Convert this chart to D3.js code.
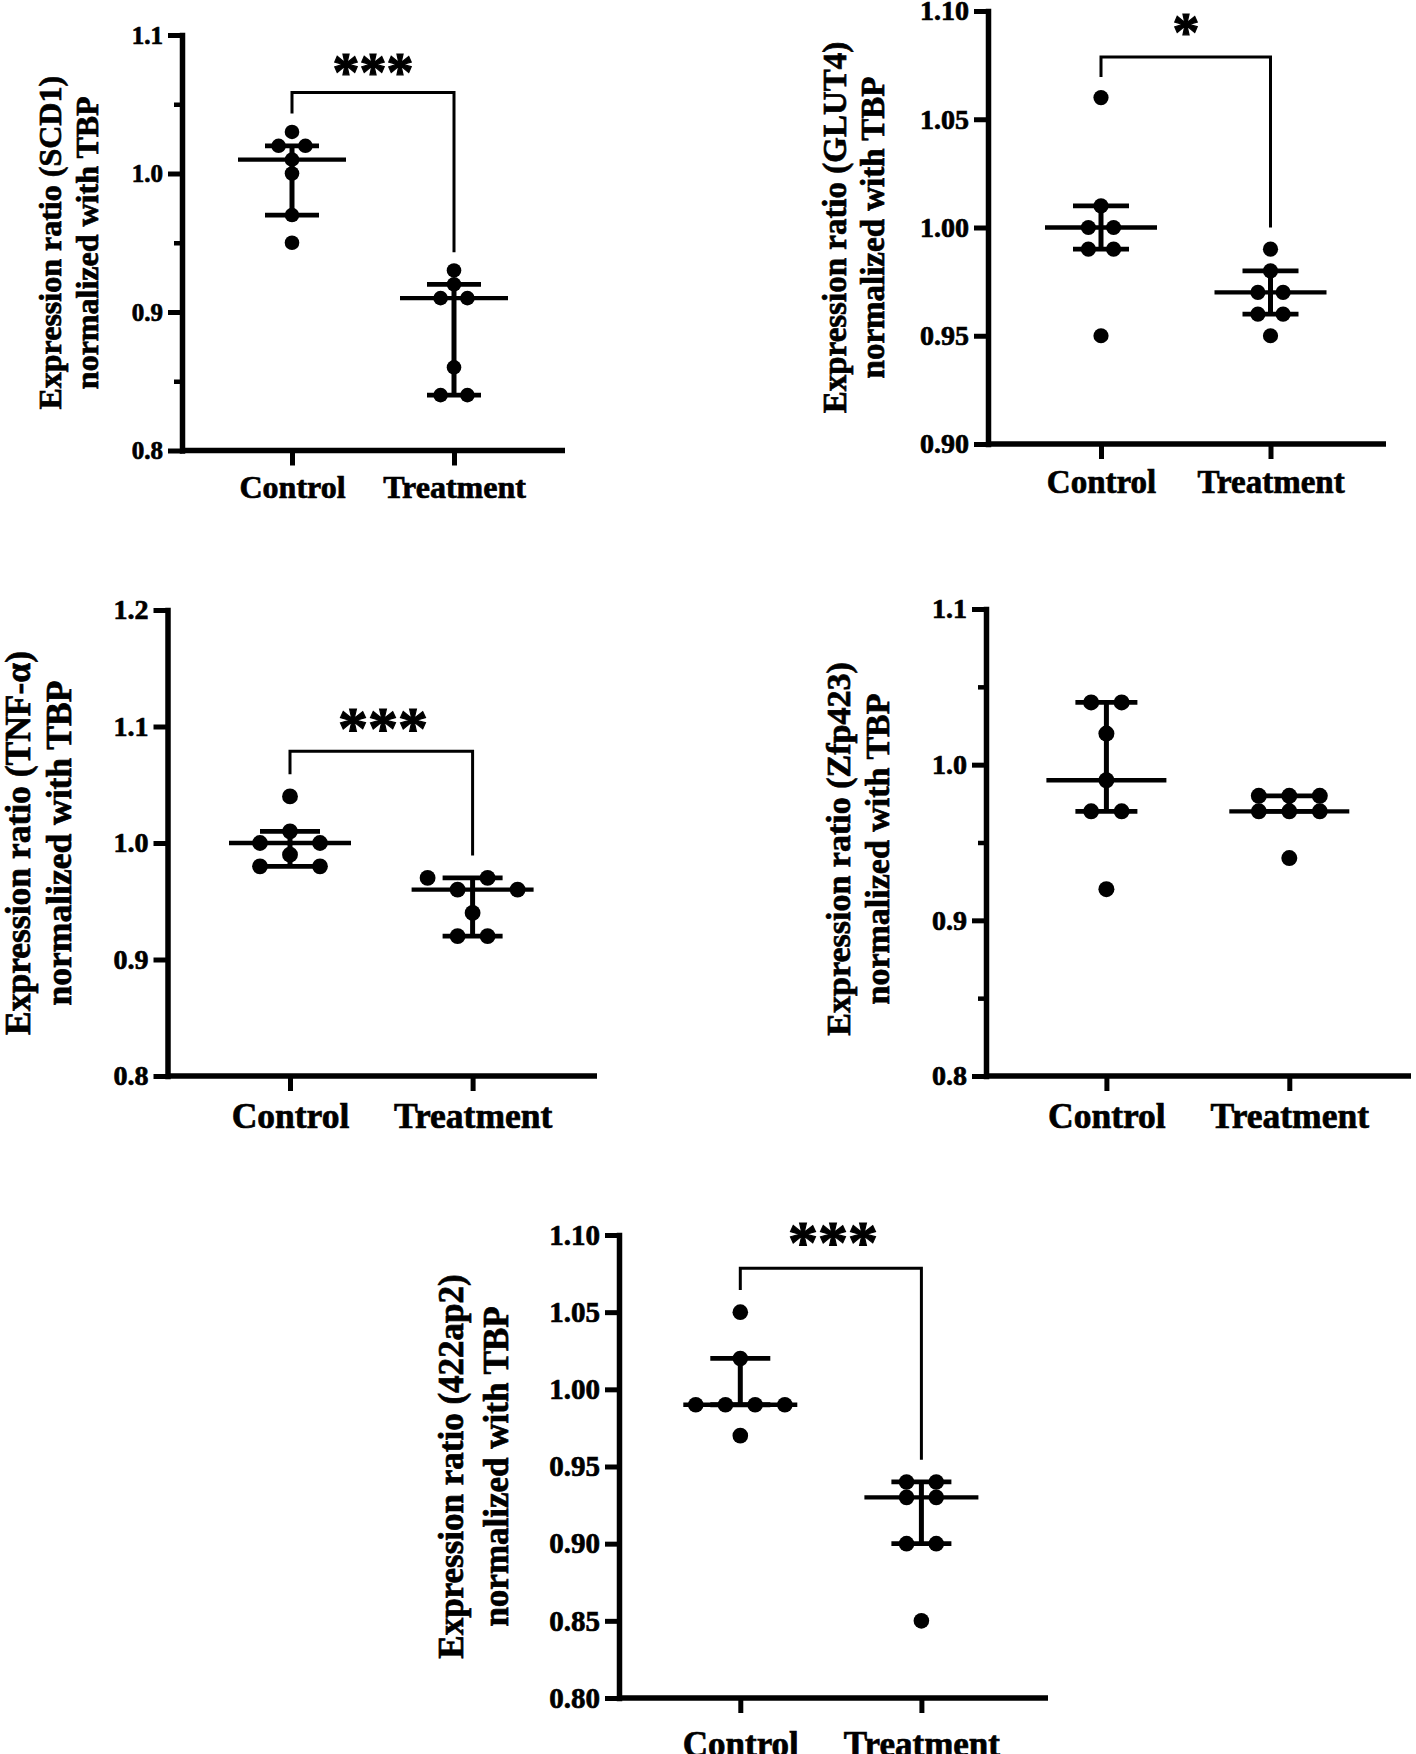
<!DOCTYPE html>
<html><head><meta charset="utf-8">
<script src="https://cdnjs.cloudflare.com/ajax/libs/d3/7.8.5/d3.min.js"></script>
<style>
html,body{margin:0;padding:0;background:#fff;}
svg{display:block;}
text{font-family:"Liberation Serif","Times New Roman",serif;font-weight:bold;fill:#000;stroke:#000;stroke-width:0.7px;}
</style></head><body>
<svg id="chart" width="1416" height="1754"></svg>
<script>
// ---------- data ----------
const categories = ["Control", "Treatment"];

const scd1Control   = [1.03, 1.02, 1.02, 1.01, 1.00, 0.97, 0.95];
const scd1Treatment = [0.93, 0.92, 0.91, 0.91, 0.86, 0.84, 0.84];

const glut4Control   = [1.06, 1.01, 1.00, 1.00, 0.99, 0.99, 0.95];
const glut4Treatment = [0.99, 0.98, 0.97, 0.97, 0.96, 0.96, 0.95];

const tnfControl   = [1.04, 1.01, 1.00, 1.00, 0.99, 0.98, 0.98];
const tnfTreatment = [0.97, 0.97, 0.96, 0.96, 0.94, 0.92, 0.92];

const zfpControl   = [1.04, 1.04, 1.02, 0.99, 0.97, 0.97, 0.92];
const zfpTreatment = [0.98, 0.98, 0.98, 0.97, 0.97, 0.97, 0.94];

const ap2Control   = [1.05, 1.02, 0.99, 0.99, 0.99, 0.99, 0.97];
const ap2Treatment = [0.94, 0.94, 0.93, 0.93, 0.90, 0.90, 0.85];

const ticksScd1  = [0.8, 0.9, 1.0, 1.1];
const minorScd1  = [0.85, 0.95, 1.05];
const ticksGlut4 = [0.90, 0.95, 1.00, 1.05, 1.10];
const ticksTnf   = [0.8, 0.9, 1.0, 1.1, 1.2];
const ticksZfp   = [0.8, 0.9, 1.0, 1.1];
const minorZfp   = [0.85, 0.95, 1.05];
const ticksAp2   = [0.80, 0.85, 0.90, 0.95, 1.00, 1.05, 1.10];

const titleScd1  = ["Expression ratio (SCD1)", "normalized with TBP"];
const titleGlut4 = ["Expression ratio (GLUT4)", "normalized with TBP"];
const titleTnf   = ["Expression ratio (TNF-α)", "normalized with TBP"];
const titleZfp   = ["Expression ratio (Zfp423)", "normalized with TBP"];
const titleAp2   = ["Expression ratio (422ap2)", "normalized with TBP"];

// significance: label and bracket levels (data units: top, left leg end, right leg end)
const sigScd1  = {label: "***", top: 1.0585, leftEnd: 1.0433, rightEnd: 0.9432};
const sigGlut4 = {label: "*",   top: 1.0788, leftEnd: 1.0695, rightEnd: 1.0000};
const sigTnf   = {label: "***", top: 1.0787, leftEnd: 1.0590, rightEnd: 0.9892};
const sigAp2   = {label: "***", top: 1.0784, leftEnd: 1.0644, rightEnd: 0.9543};

// ---------- layout ----------
const panels = [
  {title: titleScd1, groups: [scd1Control, scd1Treatment], domain: [0.8, 1.1], ticks: ticksScd1, minor: minorScd1, fmt: ".1f",
   left: 182, top: 35, bottom: 450.5, right: 565, cx: [292, 454],
   tickFont: 25, labelFont: 32, labelBase: 497.5, titleFont: 32, titleBase: [60.7, 97.5], titleY: null,
   r: 7.3, spacing: 26.8, medHalf: 54, capHalf: 27, sig: sigScd1, sigFont: 54, sigX: 373, sigBase: 89.6},
  {title: titleGlut4, groups: [glut4Control, glut4Treatment], domain: [0.9, 1.1], ticks: ticksGlut4, minor: [], fmt: ".2f",
   left: 988, top: 11, bottom: 444, right: 1386, cx: [1101, 1270.5],
   tickFont: 28, labelFont: 33, labelBase: 493, titleFont: 33, titleBase: [846, 884], titleY: null,
   r: 7.6, spacing: 25.2, medHalf: 56, capHalf: 28, sig: sigGlut4, sigFont: 54, sigX: 1186, sigBase: 50},
  {title: titleTnf, groups: [tnfControl, tnfTreatment], domain: [0.8, 1.2], ticks: ticksTnf, minor: [], fmt: ".1f",
   left: 167.5, top: 610, bottom: 1076, right: 597, cx: [290, 472.6],
   tickFont: 28, labelFont: 35.5, labelBase: 1127.5, titleFont: 35.5, titleBase: [29.5, 71], titleY: null,
   r: 7.9, spacing: 30, medHalf: 61, capHalf: 30, sig: sigTnf, sigFont: 60, sigX: 383, sigBase: 748},
  {title: titleZfp, groups: [zfpControl, zfpTreatment], domain: [0.8, 1.1], ticks: ticksZfp, minor: minorZfp, fmt: ".1f",
   left: 986, top: 609, bottom: 1076, right: 1411, cx: [1106.4, 1289.3],
   tickFont: 28, labelFont: 35.5, labelBase: 1127.5, titleFont: 34, titleBase: [850, 889], titleY: 849,
   r: 8, spacing: 30.5, medHalf: 60, capHalf: 31, sig: null},
  {title: titleAp2, groups: [ap2Control, ap2Treatment], domain: [0.80, 1.10], ticks: ticksAp2, minor: [], fmt: ".2f",
   left: 619, top: 1235, bottom: 1698, right: 1048, cx: [740.3, 921.4],
   tickFont: 29, labelFont: 35, labelBase: 1756, titleFont: 35, titleBase: [463.3, 508.3], titleY: null,
   r: 7.8, spacing: 29.7, medHalf: 57, capHalf: 30, sig: sigAp2, sigFont: 60, sigX: 833, sigBase: 1262}
];

// ---------- helpers ----------
function quant(values, p) {
  const s = values.slice().sort((a, b) => a - b);
  const n = s.length;
  let pos = (n + 1) * p;
  pos = Math.max(1, Math.min(n, pos));
  const lo = Math.floor(pos), hi = Math.ceil(pos);
  return s[lo - 1] + (s[hi - 1] - s[lo - 1]) * (pos - lo);
}

function swarm(values, y, r, spacing) {
  const sorted = values.slice().sort((a, b) => b - a);
  const rows = [];
  let cur = null;
  const thr = 1.75 * r;
  for (const v of sorted) {
    if (cur && Math.abs(y(v) - y(cur[0])) < thr) cur.push(v);
    else { cur = [v]; rows.push(cur); }
  }
  const pts = [];
  for (const row of rows) {
    const groups = d3.groups(row, d => d)
      .sort((a, b) => (b[1].length - a[1].length) || (b[0] - a[0]));
    const order = [];
    let k = 0;
    while (order.length < row.length) {
      for (const g of groups) if (g[1].length > k) order.push(g[0]);
      k++;
    }
    order.forEach((v, i) => pts.push({v, dx: (i - (order.length - 1) / 2) * spacing}));
  }
  return pts;
}

// ---------- draw ----------
const svg = d3.select("#chart");
svg.append("rect").attr("width", 1416).attr("height", 1754).attr("fill", "#fff");

const FONT = '"Liberation Serif","Times New Roman",serif';

panels.forEach(p => {
  const g = svg.append("g");
  const y = d3.scaleLinear().domain(p.domain).range([p.bottom, p.top]);
  const x = d3.scalePoint().domain(categories).range(p.cx);

  // y axis
  const ya = g.append("g").attr("transform", `translate(${p.left},0)`)
    .call(d3.axisLeft(y).tickValues(p.ticks).tickFormat(d3.format(p.fmt))
      .tickSize(14).tickSizeOuter(0).tickPadding(5));
  ya.select(".domain").attr("stroke", "#000").attr("stroke-width", 5.5).attr("stroke-linecap", "square");
  ya.selectAll(".tick line").attr("stroke", "#000").attr("stroke-width", 5);
  ya.selectAll(".tick text").attr("font-size", p.tickFont)
    .style("font-family", FONT).style("font-weight", "bold");

  if (p.minor.length) {
    const ym = g.append("g").attr("transform", `translate(${p.left},0)`)
      .call(d3.axisLeft(y).tickValues(p.minor).tickFormat("").tickSize(8).tickSizeOuter(0));
    ym.select(".domain").remove();
    ym.selectAll(".tick line").attr("stroke", "#000").attr("stroke-width", 4.5);
  }

  // x axis line
  g.append("line").attr("x1", p.left).attr("x2", p.right)
    .attr("y1", y(p.domain[0])).attr("y2", y(p.domain[0]))
    .attr("stroke", "#000").attr("stroke-width", 5.5);

  const xa = g.append("g").attr("transform", `translate(0,${y(p.domain[0])})`)
    .call(d3.axisBottom(x).tickSize(15).tickSizeOuter(0));
  xa.select(".domain").remove();
  xa.selectAll(".tick line").attr("stroke", "#000").attr("stroke-width", 5);
  xa.selectAll(".tick text").attr("font-size", p.labelFont).attr("dy", null)
    .attr("y", p.labelBase - y(p.domain[0]))
    .style("font-family", FONT).style("font-weight", "bold");

  // title
  const ty = p.titleY != null ? p.titleY : (p.top + p.bottom) / 2;
  p.title.forEach((t, i) => {
    g.append("text").attr("transform", `translate(${p.titleBase[i]},${ty}) rotate(-90)`)
      .attr("text-anchor", "middle").attr("font-size", p.titleFont).text(t);
  });

  // data
  p.groups.forEach((vals, gi) => {
    const cx = x(categories[gi]);
    const med = quant(vals, 0.5), q1 = quant(vals, 0.25), q3 = quant(vals, 0.75);
    g.append("line").attr("x1", cx).attr("x2", cx).attr("y1", y(q1)).attr("y2", y(q3))
      .attr("stroke", "#000").attr("stroke-width", 5);
    [q1, q3].forEach(q => {
      g.append("line").attr("x1", cx - p.capHalf).attr("x2", cx + p.capHalf)
        .attr("y1", y(q)).attr("y2", y(q)).attr("stroke", "#000").attr("stroke-width", 4.8);
    });
    g.append("line").attr("x1", cx - p.medHalf).attr("x2", cx + p.medHalf)
      .attr("y1", y(med)).attr("y2", y(med)).attr("stroke", "#000").attr("stroke-width", 4.3);
    const pts = swarm(vals, y, p.r, p.spacing);
    g.selectAll(null).data(pts).enter().append("circle")
      .attr("cx", d => cx + d.dx).attr("cy", d => y(d.v)).attr("r", p.r).attr("fill", "#000");
  });

  // significance
  if (p.sig) {
    const xl = x(categories[0]), xr = x(categories[1]);
    g.append("path")
      .attr("d", d3.line()([[xl, y(p.sig.leftEnd)], [xl, y(p.sig.top)], [xr, y(p.sig.top)], [xr, y(p.sig.rightEnd)]]))
      .attr("fill", "none").attr("stroke", "#000").attr("stroke-width", 3);
    g.append("text").attr("x", p.sigX).attr("y", p.sigBase).attr("text-anchor", "middle")
      .attr("font-size", p.sigFont).style("stroke-width", "1.2px").text(p.sig.label);
  }
});
</script>
</body></html>
